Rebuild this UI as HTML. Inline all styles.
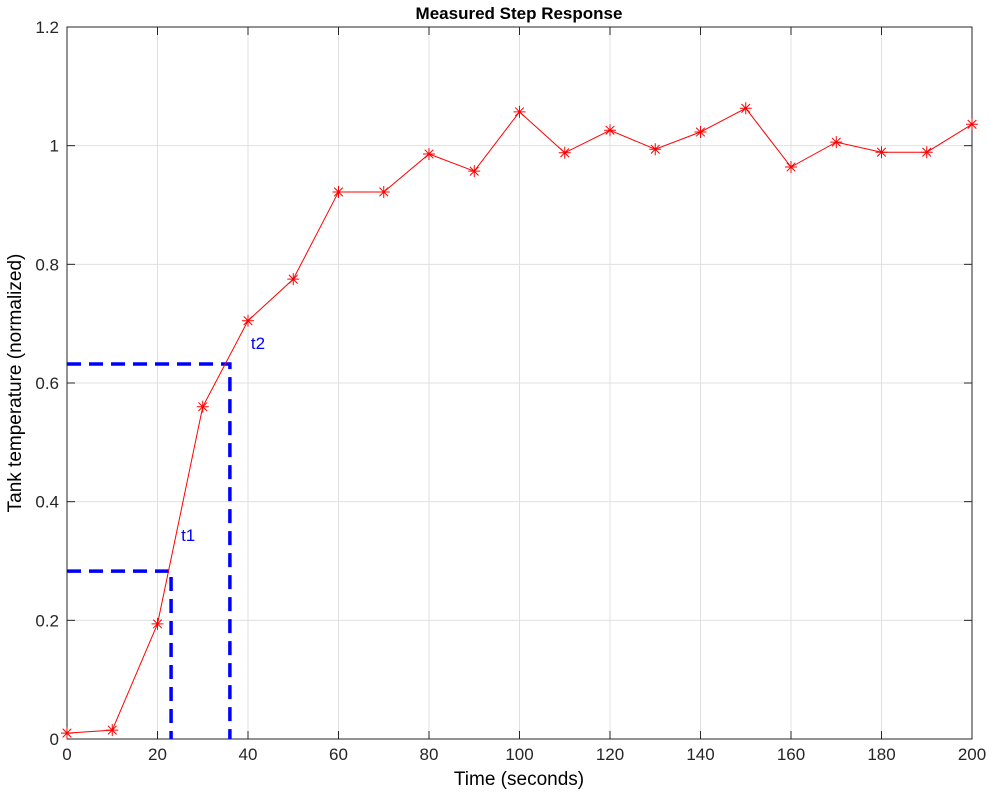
<!DOCTYPE html>
<html><head><meta charset="utf-8"><style>
body{margin:0;background:#fff;}
svg text{font-family:"Liberation Sans",sans-serif;}
</style></head><body>
<svg width="989" height="794">
<g id="grid"></g>
<g id="axes"></g>
<g id="marks"></g>
<text x="519" y="19" text-anchor="middle" font-size="17" font-weight="bold">Measured Step Response</text>
<text x="519" y="785" text-anchor="middle" font-size="19">Time (seconds)</text>
<text transform="translate(21,383) rotate(-90)" text-anchor="middle" font-size="19">Tank temperature (normalized)</text>
</svg>
<script>
const times=[0,10,20,30,40,50,60,70,80,90,100,110,120,130,140,150,160,170,180,190,200];
const temps=[0.01,0.015,0.194,0.56,0.705,0.775,0.922,0.922,0.986,0.957,1.057,0.988,1.026,0.994,1.023,1.063,0.964,1.006,0.989,0.989,1.036];
const xTicks=[0,20,40,60,80,100,120,140,160,180,200];
const yTicks=[0,0.2,0.4,0.6,0.8,1,1.2];
const yTickLabels=["0","0.2","0.4","0.6","0.8","1","1.2"];
const t1=[23,0.283];
const t2=[36,0.632];
const L=67,R=972,T=27,B=739;
const xs=v=>L+(v-0)/200*(R-L);
const ys=v=>B-(v/1.2)*(B-T);
const NS="http://www.w3.org/2000/svg";
function mk(tag,attrs,parent){const e=document.createElementNS(NS,tag);for(const k in attrs)e.setAttribute(k,attrs[k]);document.getElementById(parent).appendChild(e);return e;}
xTicks.forEach(v=>{
 const g=mk('line',{x1:xs(v),x2:xs(v),y1:T,y2:B,stroke:'#e0e0e0','stroke-width':1},'grid');
 
 
 [[B,B-8],[T,T+8]].forEach(p=>{const t=mk('line',{x1:xs(v),x2:xs(v),y1:p[0],y2:p[1],stroke:'#262626'},'axes');
 
 });
 const l=mk('text',{x:xs(v),y:B+21,'text-anchor':'middle','font-size':17,fill:'#262626'},'axes');l.textContent=v;
 
 
});
yTicks.forEach((v,i)=>{
 const g=mk('line',{x1:L,x2:R,y1:ys(v),y2:ys(v),stroke:'#e0e0e0','stroke-width':1},'grid');
 
 
 [[L,L+8],[R,R-8]].forEach(p=>{const t=mk('line',{x1:p[0],x2:p[1],y1:ys(v),y2:ys(v),stroke:'#262626'},'axes');
 
 });
 const l=mk('text',{x:L-8,y:ys(v)+6,'text-anchor':'end','font-size':17,fill:'#262626'},'axes');l.textContent=yTickLabels[i];
 
 
});
const box=mk('rect',{x:L,y:T,width:R-L,height:B-T,fill:'none',stroke:'#262626','stroke-width':1},'axes');


[t1,t2].forEach((p,i)=>{
 const d=mk('path',{d:`M${L},${ys(p[1])}H${xs(p[0])}V${B}`,fill:'none',stroke:'#0000ff','stroke-width':3.5,'stroke-dasharray':'14,8'},'marks');
 
 
});
const line=mk('polyline',{points:times.map((t,i)=>xs(t)+','+ys(temps[i])).join(' '),fill:'none',stroke:'#ff0000','stroke-width':1},'marks');


times.forEach((t,i)=>{
 const x=xs(t),y=ys(temps[i]),r=6,q=4.3;
 const m=mk('path',{d:`M${x-r},${y}H${x+r}M${x},${y-r}V${y+r}M${x-q},${y-q}L${x+q},${y+q}M${x-q},${y+q}L${x+q},${y-q}`,stroke:'#ff0000','stroke-width':1},'marks');
 
 
});
const a=mk('text',{x:xs(t1[0])+10,y:ys(t1[1])-30,'font-size':17,fill:'#0000ff'},'marks');a.textContent='t1';


const b=mk('text',{x:xs(t2[0])+21,y:ys(t2[1])-15,'font-size':17,fill:'#0000ff'},'marks');b.textContent='t2';


</script>
</body></html>
